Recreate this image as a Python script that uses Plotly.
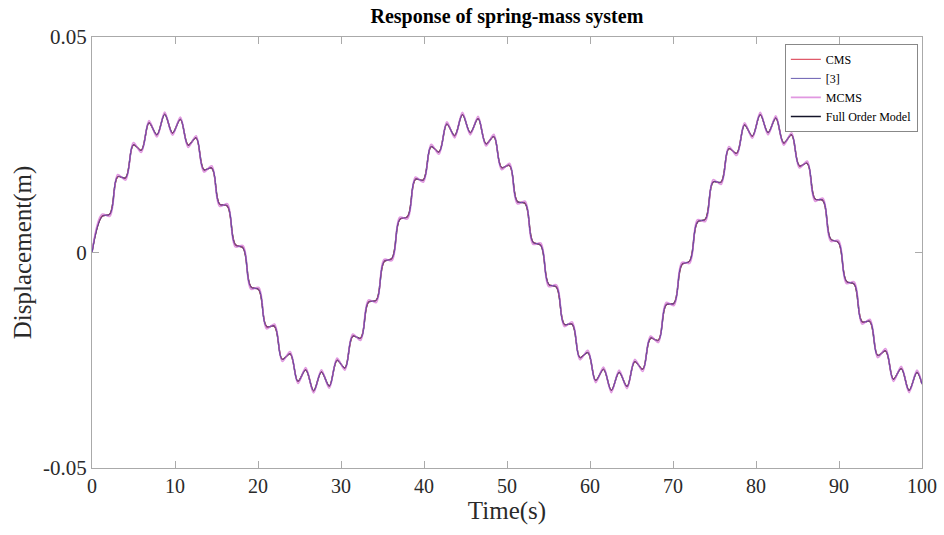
import plotly.graph_objs as go

# time samples (s) at the ripple crests/troughs
time_s = [0, 1.21, 2.15, 3.10, 4.04, 4.99, 5.93, 6.87, 7.82, 8.76, 9.70, 10.65, 11.59,
          12.54, 13.48, 14.43, 15.37, 16.31, 17.26, 18.20, 19.14, 20.09, 21.03, 21.98,
          22.92, 23.87, 24.81, 25.75, 26.70, 27.64, 28.59, 29.53, 30.47, 31.42, 32.36,
          33.31, 34.25, 35.19, 36.14, 37.08, 38.02, 38.97, 39.91, 40.86, 41.80, 42.75,
          43.69, 44.63, 45.58, 46.52, 47.47, 48.41, 49.35, 50.30, 51.24, 52.19, 53.13,
          54.07, 55.02, 55.96, 56.91, 57.85, 58.79, 59.74, 60.68, 61.63, 62.57, 63.51,
          64.46, 65.40, 66.35, 67.29, 68.23, 69.18, 70.12, 71.07, 72.01, 72.95, 73.90,
          74.84, 75.79, 76.73, 77.67, 78.62, 79.56, 80.51, 81.45, 82.39, 83.34, 84.28,
          85.23, 86.17, 87.11, 88.06, 89.00, 89.95, 90.89, 91.83, 92.78, 93.72, 94.67,
          95.61, 96.55, 97.50, 98.44, 99.39, 100.0]

# full order model (CMS and [3] lie on top of it at this scale)
disp_full = [0, 0.0084, 0.0089, 0.0176, 0.0173, 0.0250, 0.0237, 0.0301, 0.0273, 0.0321,
             0.0277, 0.0309, 0.0249, 0.0266, 0.0192, 0.0196, 0.0112, 0.0108, 0.0018,
             0.0011, -0.0080, -0.0086, -0.0172, -0.0171, -0.0248, -0.0235, -0.0299,
             -0.0272, -0.0321, -0.0277, -0.0310, -0.0250, -0.0268, -0.0194, -0.0199,
             -0.0115, -0.0111, -0.0021, -0.0014, 0.0077, 0.0083, 0.0170, 0.0168, 0.0246,
             0.0233, 0.0298, 0.0271, 0.0320, 0.0278, 0.0311, 0.0252, 0.0269, 0.0197,
             0.0202, 0.0118, 0.0114, 0.0024, 0.0017, -0.0074, -0.0080, -0.0167, -0.0166,
             -0.0244, -0.0232, -0.0297, -0.0271, -0.0320, -0.0278, -0.0311, -0.0253,
             -0.0271, -0.0199, -0.0204, -0.0121, -0.0118, -0.0028, -0.0020, 0.0071,
             0.0077, 0.0164, 0.0163, 0.0241, 0.0230, 0.0296, 0.0270, 0.0320, 0.0278,
             0.0312, 0.0254, 0.0273, 0.0201, 0.0207, 0.0124, 0.0121, 0.0031, 0.0023,
             -0.0067, -0.0073, -0.0161, -0.0160, -0.0239, -0.0228, -0.0294, -0.0269,
             -0.0320, -0.0278, -0.0305]

disp_cms = disp_full
disp_ref3 = disp_full

# MCMS ripple is a touch wider
disp_mcms = [0, 0.0089, 0.0084, 0.0181, 0.0168, 0.0255, 0.0232, 0.0306, 0.0268, 0.0326,
             0.0272, 0.0314, 0.0244, 0.0271, 0.0187, 0.0201, 0.0107, 0.0113, 0.0013,
             0.0016, -0.0085, -0.0081, -0.0177, -0.0166, -0.0253, -0.0230, -0.0304,
             -0.0267, -0.0326, -0.0272, -0.0315, -0.0245, -0.0273, -0.0189, -0.0204,
             -0.0110, -0.0116, -0.0016, -0.0019, 0.0082, 0.0078, 0.0175, 0.0163, 0.0251,
             0.0228, 0.0303, 0.0266, 0.0325, 0.0273, 0.0316, 0.0247, 0.0274, 0.0192,
             0.0207, 0.0113, 0.0119, 0.0019, 0.0022, -0.0079, -0.0075, -0.0172, -0.0161,
             -0.0249, -0.0227, -0.0302, -0.0266, -0.0325, -0.0273, -0.0316, -0.0248,
             -0.0276, -0.0194, -0.0209, -0.0116, -0.0123, -0.0023, -0.0025, 0.0076,
             0.0072, 0.0169, 0.0158, 0.0246, 0.0225, 0.0301, 0.0265, 0.0325, 0.0273,
             0.0317, 0.0249, 0.0278, 0.0196, 0.0212, 0.0119, 0.0126, 0.0026, 0.0028,
             -0.0072, -0.0068, -0.0166, -0.0155, -0.0244, -0.0223, -0.0299, -0.0264,
             -0.0325, -0.0273, -0.0305]

x_ticks = [0, 10, 20, 30, 40, 50, 60, 70, 80, 90, 100]
y_ticks = [-0.05, 0, 0.05]
y_labels = ['-0.05', '0', '0.05']

serif = 'Liberation Serif, Times New Roman, serif'

# drawn bottom-up; legendrank keeps the original legend order
series = [
    ('Full Order Model', disp_full, '#15152a', 1.5, 1.0, 4),
    ('CMS', disp_cms, '#e05a6a', 1.3, 1.0, 1),
    ('MCMS', disp_mcms, '#dc86dc', 1.6, 0.85, 3),
    ('[3]', disp_ref3, '#43359e', 1.0, 0.8, 2),
]

data = []
for name, ys, col, w, op, rank in series:
    data.append(go.Scatter(
        x=time_s, y=ys, name=name, mode='lines', opacity=op, legendrank=rank,
        line=dict(color=col, width=w, shape='spline', smoothing=1.0),
    ))

layout = go.Layout(
    width=944, height=535,
    paper_bgcolor='white', plot_bgcolor='white',
    margin=dict(l=92, r=22, t=37, b=67, autoexpand=False),
    title=dict(text='<b>Response of spring-mass system</b>', x=0.537, xanchor='center',
               y=0.971, yanchor='middle', font=dict(family=serif, size=20, color='black')),
    font=dict(family=serif, color='#222222'),
    xaxis=dict(range=[0, 100], tickvals=x_ticks, ticks='inside', ticklen=7,
               tickcolor='#aaaaaa', showline=True, linecolor='#aaaaaa', linewidth=1,
               mirror='ticks', showgrid=False, zeroline=False, automargin=False,
               tickfont=dict(family=serif, size=20, color='#2a2a2a'),
               title=dict(text='Time(s)', font=dict(family=serif, size=25, color='#2a2a2a'),
                          standoff=5)),
    yaxis=dict(range=[-0.05, 0.05], tickvals=y_ticks, ticktext=y_labels, ticks='inside',
               ticklen=7, tickcolor='#aaaaaa', showline=True, linecolor='#aaaaaa',
               linewidth=1, mirror='ticks', showgrid=False, zeroline=False, automargin=False,
               tickfont=dict(family=serif, size=21, color='#2a2a2a'),
               title=dict(text='Displacement(m)', font=dict(family=serif, size=25, color='#2a2a2a'),
                          standoff=4)),
    legend=dict(x=0.995, xanchor='right', y=0.984, yanchor='top',
                bgcolor='white', bordercolor='#888888', borderwidth=1,
                font=dict(family=serif, size=12, color='black'),
                tracegroupgap=0, itemwidth=30),
    showlegend=True,
)

fig = go.Figure(data, layout)
# drop the page's default 8px body margin so the figure sits at the window origin
fig.write_html("out.html", config={'displayModeBar': False},
               post_script="document.body.style.margin='0px';")
